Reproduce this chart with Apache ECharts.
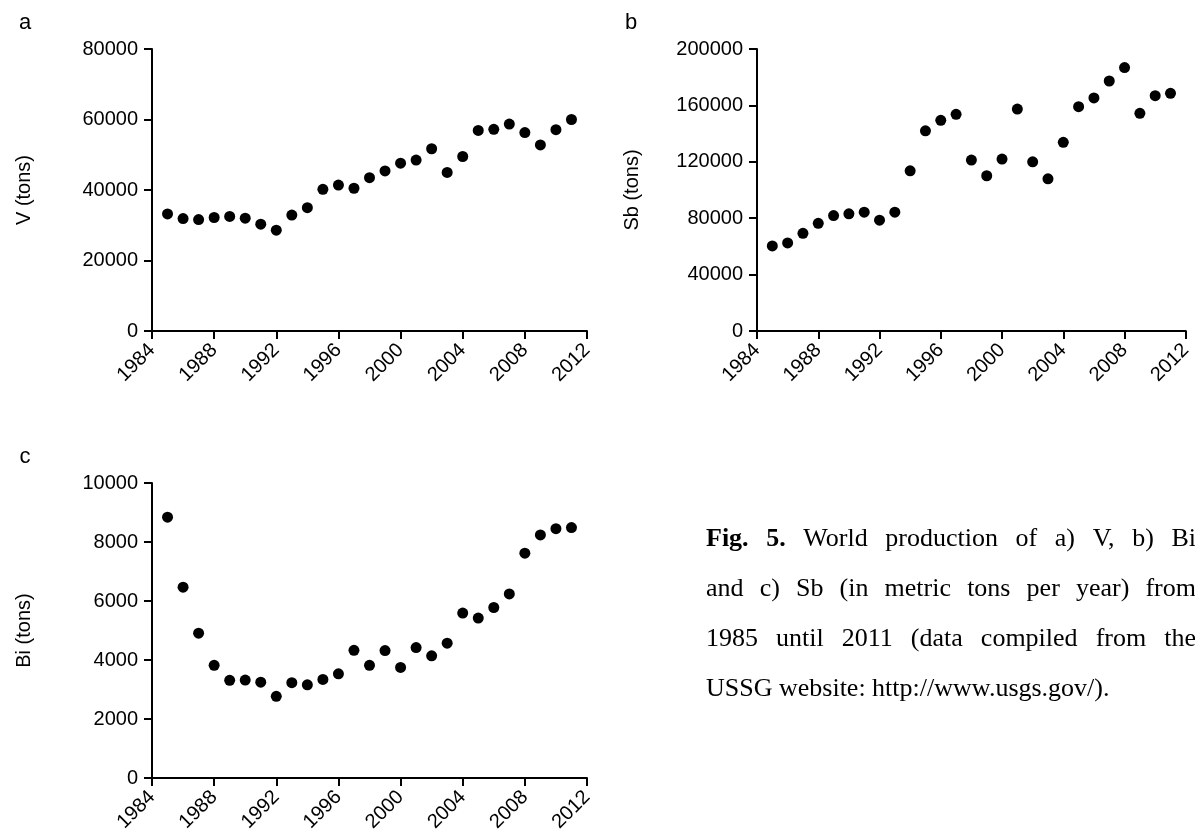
<!DOCTYPE html>
<html><head><meta charset="utf-8">
<script src="https://cdn.jsdelivr.net/npm/echarts@6/dist/echarts.min.js"></script>
<style>html,body{margin:0;padding:0;background:#fff}#c{width:1195px;height:839px}</style>
</head><body><div id="c"></div>
<script>
// ---- data ----
const years = [1985,1986,1987,1988,1989,1990,1991,1992,1993,1994,1995,1996,1997,1998,1999,2000,2001,2002,2003,2004,2005,2006,2007,2008,2009,2010,2011];
const vTons = [33200,31900,31600,32200,32500,32000,30300,28600,32900,35000,40200,41400,40500,43500,45400,47600,48500,51700,45000,49500,56900,57200,58700,56300,52800,57100,60000];
const sbTons = [60300,62500,69300,76400,81900,83100,84300,78600,84300,113600,142000,149400,153700,121200,110100,121900,157400,120000,107900,133800,159100,165300,177300,186800,154400,166900,168600];
const biTons = [8840,6470,4910,3820,3310,3320,3250,2770,3230,3160,3340,3530,4330,3820,4320,3750,4420,4140,4570,5590,5420,5780,6240,7620,8240,8450,8490];
const xMin = 1984, xMax = 2012, xStep = 4;
const panelLetters = ['a','b','c'];
const yNames = ['V (tons)','Sb (tons)','Bi (tons)'];
const yMax = [80000, 200000, 10000];
const yStep = [20000, 40000, 2000];
const captionLines = [
  [['Fig.',true],['5.',true],['World'],['production'],['of'],['a)'],['V,'],['b)'],['Bi']],
  [['and'],['c)'],['Sb'],['(in'],['metric'],['tons'],['per'],['year)'],['from']],
  [['1985'],['until'],['2011'],['(data'],['compiled'],['from'],['the']],
  [['USSG'],['website:'],['http://www.usgs.gov/).']]
];

const SANS = "'Liberation Sans', Arial, sans-serif";
const SERIF = "'Liberation Serif', 'Times New Roman', serif";
const grids = [
  {left:152, top:49, width:435, height:282},
  {left:757, top:49, width:435, height:282},
  {left:152, top:483, width:435, height:295}
];
const series = [vTons, sbTons, biTons];
const plain = v => String(v);

const xAxes = grids.map((g,i)=>({
  type:'value', gridIndex:i, min:xMin, max:xMax, interval:xStep,
  axisLine:{onZero:false, lineStyle:{color:'#000', width:2}},
  axisTick:{show:true, length:8, lineStyle:{color:'#000', width:2}},
  axisLabel:{rotate:45, margin:16, color:'#000', fontSize:20, fontFamily:SANS, formatter:plain},
  splitLine:{show:false}
}));
const yAxes = grids.map((g,i)=>({
  type:'value', gridIndex:i, min:0, max:yMax[i], interval:yStep[i],
  name:yNames[i], nameLocation:'middle', nameGap:(i===1?115:118),
  nameTextStyle:{color:'#000', fontSize:20, fontFamily:SANS},
  axisLine:{show:true, onZero:false, lineStyle:{color:'#000', width:2}},
  axisTick:{show:true, length:8, lineStyle:{color:'#000', width:2}},
  axisLabel:{margin:14, color:'#000', fontSize:20, fontFamily:SANS, formatter:plain},
  splitLine:{show:false}
}));
const seriesOpts = series.map((vals,i)=>({
  type:'scatter', xAxisIndex:i, yAxisIndex:i, symbol:'circle', symbolSize:11,
  itemStyle:{color:'#000', opacity:1}, data: years.map((y,k)=>[y, vals[k]])
}));

// caption layout (justified)
const ctx = document.createElement('canvas').getContext('2d');
const capFont = 26, capLeft = 706, capRight = 1196, capY0 = 539, capDy = 50;
const graphic = [];
panelLetters.forEach((t,i)=>{
  const pos = [[25,23],[631,23],[25,457]][i];
  graphic.push({type:'text', x:pos[0], y:pos[1], style:{text:t, font:`22px ${SANS}`, fill:'#000', textAlign:'center', textVerticalAlign:'middle'}});
});
captionLines.forEach((words,li)=>{
  const widths = words.map(w=>{ ctx.font = (w[1]?'bold ':'') + capFont + 'px ' + SERIF; return ctx.measureText(w[0]).width; });
  const total = widths.reduce((a,b)=>a+b,0);
  const last = li === captionLines.length-1;
  ctx.font = capFont + 'px ' + SERIF;
  const sp = last ? ctx.measureText(' ').width : (capRight - capLeft - total)/(words.length-1);
  let x = capLeft;
  words.forEach((w,k)=>{
    graphic.push({type:'text', x:x, y:capY0 + li*capDy, style:{text:w[0], font:(w[1]?'bold ':'') + capFont + 'px ' + SERIF, fill:'#000', textVerticalAlign:'middle', textAlign:'left'}});
    x += widths[k] + sp;
  });
});

const chart = echarts.init(document.getElementById('c'), null, {renderer:'canvas'});
chart.setOption({
  animation:false, backgroundColor:'#fff',
  grid: grids.map(g=>Object.assign({containLabel:false}, g)),
  xAxis:xAxes, yAxis:yAxes, series:seriesOpts, graphic:graphic
});
</script></body></html>
